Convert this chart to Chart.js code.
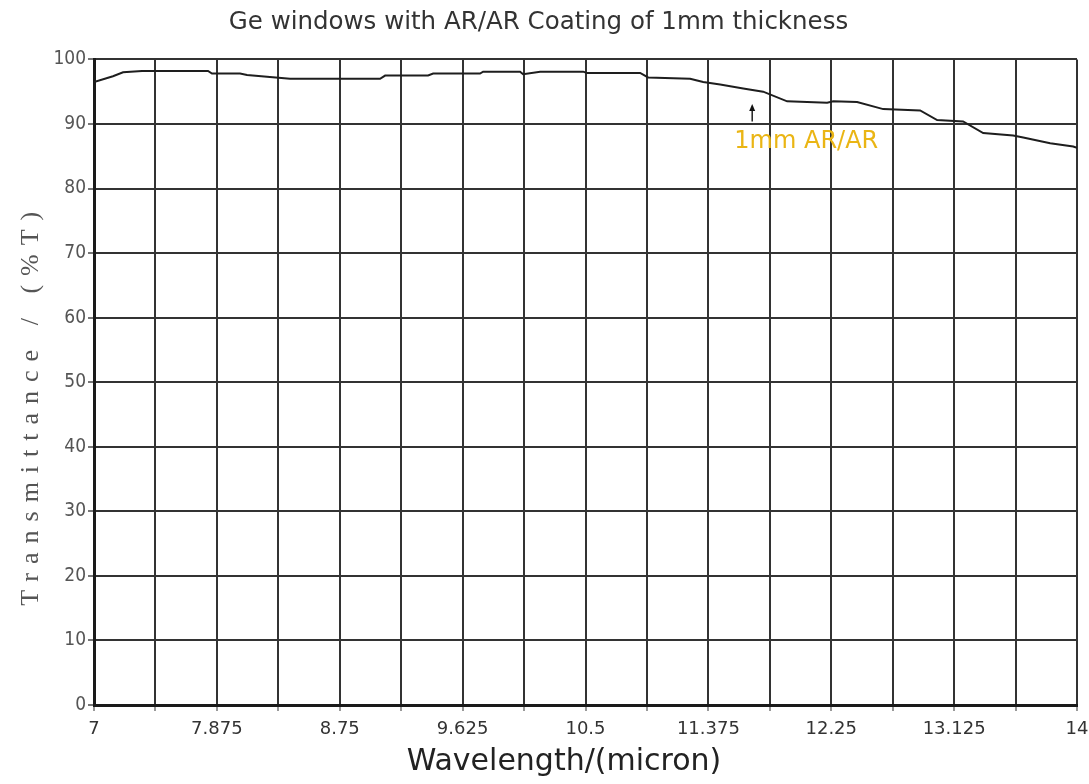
<!DOCTYPE html>
<html>
<head>
<meta charset="utf-8">
<script src="https://cdn.jsdelivr.net/npm/chart.js@4.4.0/dist/chart.umd.min.js"></script>
<style>
html,body{margin:0;padding:0;background:#fff;}
#wrap{width:1089px;height:784px;}
</style>
</head>
<body>
<div id="wrap"><canvas id="c" width="1089" height="784"></canvas></div>
<script>
// ---- data ----
const chartTitle = 'Ge windows with AR/AR Coating of 1mm thickness';
const xTitle = 'Wavelength/(micron)';
const yTitle = 'Transmittance / (%T)';
const seriesName = '1mm AR/AR';

const wavelength = [7.00, 7.135, 7.207, 7.342, 7.812, 7.840, 8.040, 8.090, 8.232, 8.396,
  9.037, 9.073, 9.379, 9.415, 9.749, 9.771, 10.034, 10.056, 10.177, 10.483,
  10.511, 10.889, 10.946, 11.245, 11.338, 11.459, 11.623, 11.765, 11.936, 12.221,
  12.264, 12.434, 12.620, 12.883, 13.004, 13.189, 13.332, 13.545, 13.617, 13.809,
  13.973, 14.00];
const transmittance = [96.5, 97.4, 98.0, 98.2, 98.2, 97.8, 97.8, 97.6, 97.3, 97.0,
  97.0, 97.5, 97.5, 97.8, 97.8, 98.1, 98.1, 97.7, 98.1, 98.1,
  97.9, 97.9, 97.2, 97.0, 96.5, 96.1, 95.5, 95.0, 93.5, 93.3,
  93.5, 93.4, 92.3, 92.1, 90.6, 90.4, 88.6, 88.2, 87.9, 87.0,
  86.5, 86.3];

const xTickLabels = ['7', '7.875', '8.75', '9.625', '10.5', '11.375', '12.25', '13.125', '14'];
const yTickValues = [0, 10, 20, 30, 40, 50, 60, 70, 80, 90, 100];

const annotationText = '1mm AR/AR';
const annotationAt = [11.56, 87.2];
const arrowStart = [11.687, 90.4];
const arrowEnd = [11.687, 93.1];

// ---- plugins ----
const axisTitlePlugin = {
  id: 'axisTitlePlugin',
  afterDraw(chart) {
    const ctx = chart.ctx;
    const ca = chart.chartArea;
    // y title
    ctx.save();
    ctx.font = '26px "Liberation Serif", "DejaVu Serif", serif';
    ctx.fillStyle = '#555';
    try { ctx.letterSpacing = '9px'; } catch (e) {}
    ctx.textAlign = 'center';
    ctx.textBaseline = 'middle';
    ctx.translate(31, (ca.top + ca.bottom) / 2 + 22);
    ctx.rotate(-Math.PI / 2);
    ctx.fillText(yTitle, 0, 0);
    ctx.restore();
    // x title
    ctx.save();
    ctx.font = '30px "DejaVu Sans", sans-serif';
    ctx.fillStyle = '#222';
    ctx.textAlign = 'center';
    ctx.textBaseline = 'middle';
    ctx.fillText(xTitle, 564, ca.bottom + 57);
    ctx.restore();
  }
};

const annotationPlugin = {
  id: 'annotationPlugin',
  afterDatasetsDraw(chart) {
    const ctx = chart.ctx;
    const xs = chart.scales.x, ys = chart.scales.y;
    ctx.save();
    const ax = xs.getPixelForValue(arrowStart[0]);
    const ay0 = ys.getPixelForValue(arrowStart[1]);
    const ay1 = ys.getPixelForValue(arrowEnd[1]);
    ctx.strokeStyle = '#111';
    ctx.fillStyle = '#111';
    ctx.lineWidth = 1.4;
    ctx.beginPath();
    ctx.moveTo(ax, ay0);
    ctx.lineTo(ax, ay1 + 4);
    ctx.stroke();
    ctx.beginPath();
    ctx.moveTo(ax, ay1);
    ctx.lineTo(ax - 3, ay1 + 7);
    ctx.lineTo(ax + 3, ay1 + 7);
    ctx.closePath();
    ctx.fill();
    ctx.font = '24px "DejaVu Sans", sans-serif';
    ctx.fillStyle = '#eab514';
    ctx.textAlign = 'left';
    ctx.textBaseline = 'middle';
    ctx.fillText(annotationText, xs.getPixelForValue(annotationAt[0]), ys.getPixelForValue(annotationAt[1]));
    ctx.restore();
  }
};

const points = wavelength.map((w, i) => ({ x: w, y: transmittance[i] }));

new Chart(document.getElementById('c').getContext('2d'), {
  type: 'line',
  data: {
    datasets: [{
      label: seriesName,
      data: points,
      borderColor: '#1e1e1e',
      borderWidth: 2,
      pointRadius: 0,
      tension: 0,
      fill: false
    }]
  },
  options: {
    responsive: false,
    animation: false,
    devicePixelRatio: 1,
    layout: { padding: { left: 0, right: 12, top: 0, bottom: 0 } },
    plugins: {
      legend: { display: false },
      tooltip: { enabled: false },
      title: {
        display: true,
        text: chartTitle,
        color: '#333',
        font: { family: '"DejaVu Sans", sans-serif', size: 24.5, weight: 'normal' },
        padding: { top: 8, bottom: 22 }
      }
    },
    scales: {
      x: {
        type: 'linear',
        min: 7,
        max: 14,
        afterFit(scale) { scale.height = 79; scale.paddingLeft = 0; scale.paddingRight = 0; },
        afterBuildTicks(scale) {
          const t = [];
          for (let i = 0; i < xTickLabels.length * 2 - 1; i++) t.push({ value: 7 + i * 0.4375 });
          scale.ticks = t;
        },
        ticks: {
          autoSkip: false,
          maxRotation: 0,
          padding: 8,
          color: '#333',
          font: { family: '"DejaVu Sans", sans-serif', size: 18 },
          callback(value, index) { return index % 2 === 0 ? xTickLabels[index / 2] : ''; }
        },
        grid: { color: '#333', lineWidth: 2, drawTicks: true, tickLength: 6, tickColor: '#999' },
        border: { color: '#1a1a1a', width: 3 },
        title: { display: false, text: xTitle }
      },
      y: {
        min: 0,
        max: 100,
        afterFit(scale) { scale.width = 94; },
        afterBuildTicks(scale) { scale.ticks = yTickValues.map(v => ({ value: v })); },
        ticks: {
          padding: 2,
          color: '#555',
          font: { family: '"Liberation Sans Narrow", "DejaVu Sans Condensed", "Liberation Sans", sans-serif', size: 19 }
        },
        grid: { color: '#333', lineWidth: 2, tickLength: 6, tickColor: '#777' },
        border: { color: '#1a1a1a', width: 3 },
        title: { display: false, text: yTitle }
      }
    }
  },
  plugins: [annotationPlugin, axisTitlePlugin]
});
</script>
</body>
</html>
